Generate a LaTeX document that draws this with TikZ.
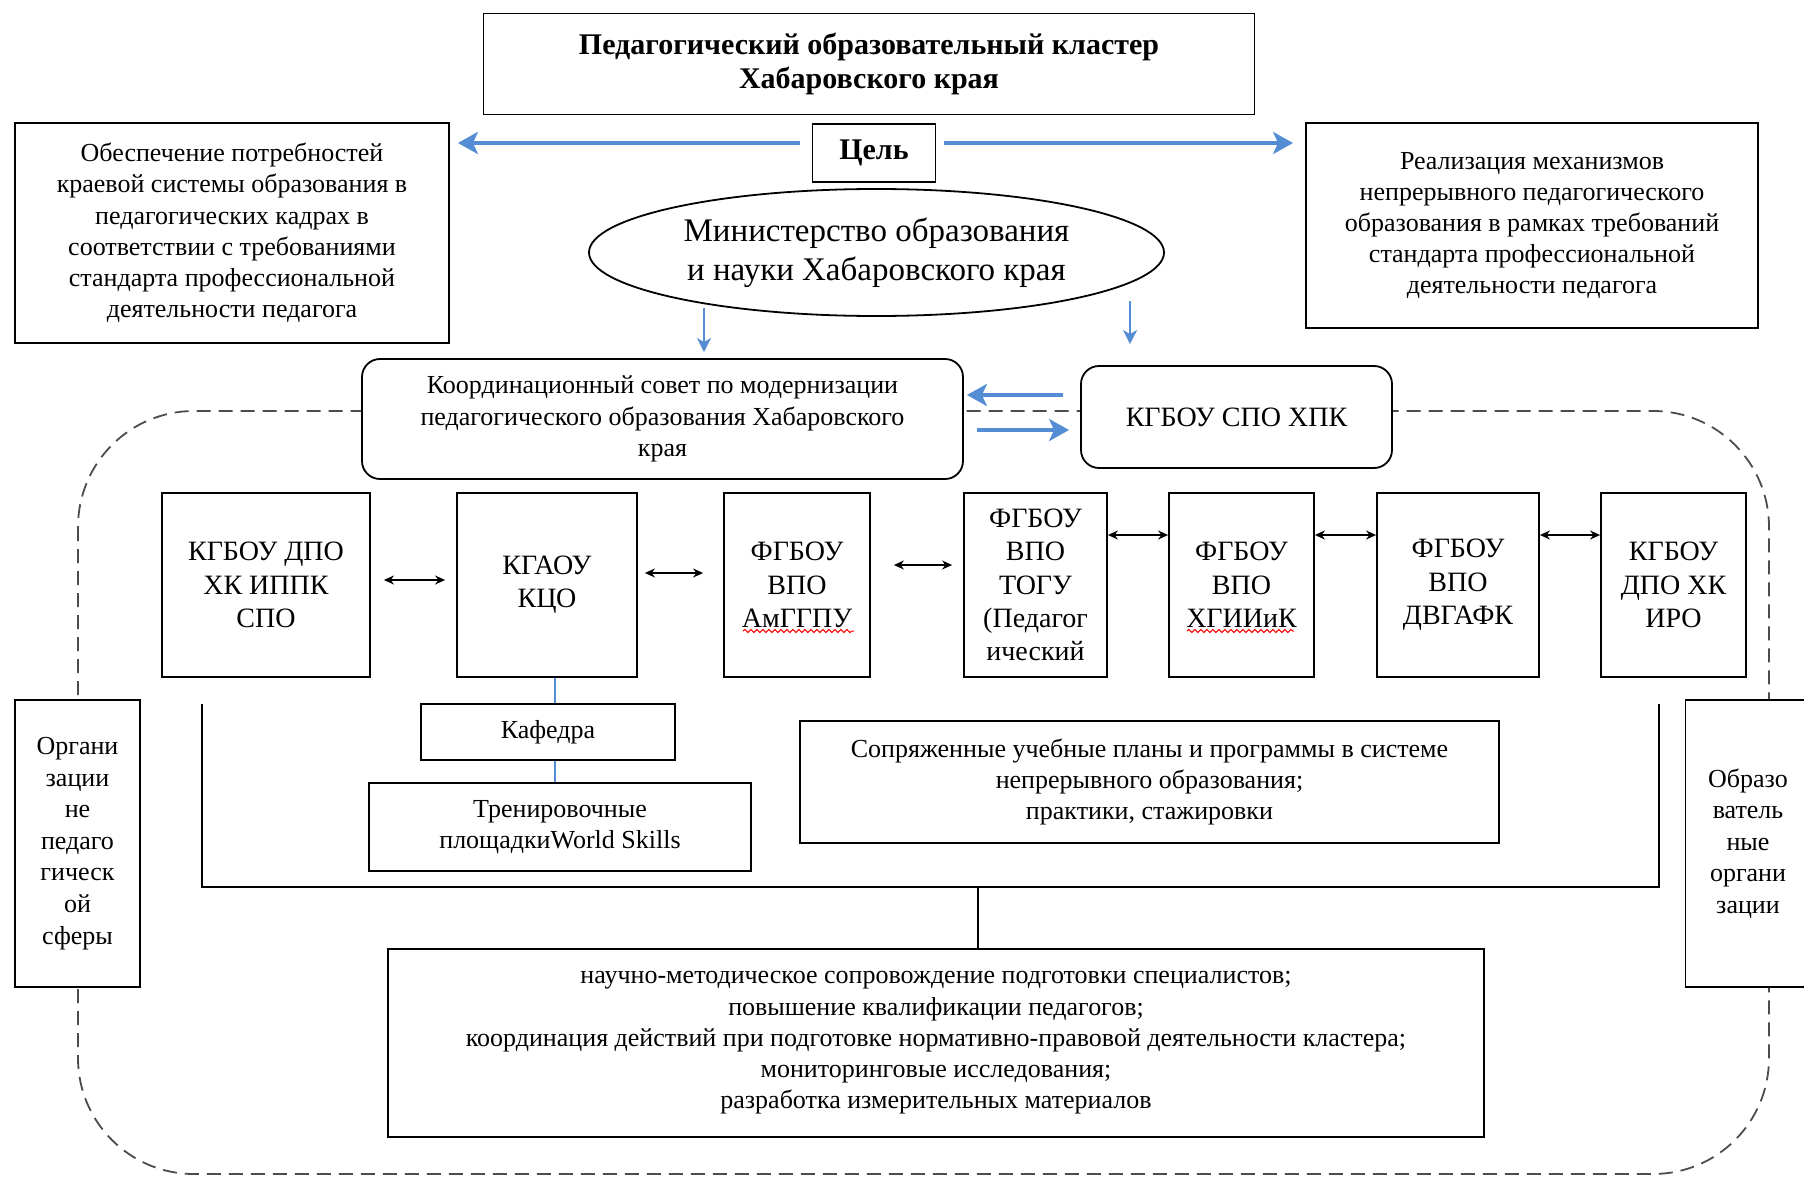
\documentclass[tikz,border=0pt]{standalone}
\usepackage{fontspec}
\setmainfont{Liberation Serif}
\usetikzlibrary{shapes.geometric,arrows.meta,decorations.pathmorphing}
\definecolor{blueline}{RGB}{84,141,212}

\begin{document}
\begin{tikzpicture}[
    x=0.5pt, y=-0.5pt,
    % Styles
    plainbox/.style={rectangle, draw=black, line width=0.9pt, fill=white, align=center, inner sep=2pt},
    textbox/.style={plainbox, font=\fontsize{13}{15.6}\selectfont},
    headbox/.style={plainbox, font=\bfseries\fontsize{15}{17.3}\selectfont},
    roundbox/.style={textbox, rounded corners=9pt},
    orgbox/.style={plainbox, font=\fontsize{14}{16.7}\selectfont, minimum height=92pt},
    sidebox/.style={plainbox, font=\fontsize{13}{15.8}\selectfont, minimum width=62.5pt, minimum height=143.5pt},
    oval/.style={ellipse, draw=black, line width=0.9pt, fill=white, align=center, inner sep=0pt, font=\fontsize{16.5}{19.5}\selectfont},
    % Arrows
    widearrow/.style={-{Stealth[length=10pt,width=11pt,inset=2.5pt]}, line width=2pt, blueline},
    thinarrow/.style={-{Stealth[length=7pt,width=7pt,inset=2pt]}, line width=1.3pt, blueline},
    duplex/.style={{Stealth[length=5pt,width=4.5pt]}-{Stealth[length=5pt,width=4.5pt]}, line width=0.8pt},
    link/.style={line width=1.3pt, blueline},
    bracket/.style={line width=0.8pt},
    cluster/.style={dash pattern=on 7pt off 4pt, line width=0.9pt, black!70, rounded corners=58pt},
    typo/.style={red, line width=0.5pt, decorate, decoration={snake, segment length=3pt, amplitude=0.8pt}},
  ]

  \useasboundingbox (0,0) rectangle (1804,1177);

  % Cluster border
  \draw[cluster] (78,411) rectangle (1769,1174);

  % Title
  \node[headbox, minimum width=385.5pt, minimum height=50.5pt] (title) at (869,64) {Педагогический образовательный кластер\\Хабаровского края};

  % Goal
  \node[headbox, minimum width=61.5pt, minimum height=29pt] (goal) at (874,153) {Цель};
  \node[textbox, minimum width=217pt, minimum height=110pt] (needs) at (232,233) {Обеспечение потребностей\\краевой системы образования в\\педагогических кадрах в\\соответствии с требованиями\\стандарта профессиональной\\деятельности педагога};
  \node[textbox, minimum width=226pt, minimum height=102.5pt] (mechanisms) at (1532,225.5) {Реализация механизмов\\непрерывного педагогического\\образования в рамках требований\\стандарта профессиональной\\деятельности педагога};

  % Ministry
  \node[oval, minimum width=287.5pt, minimum height=63.5pt] (ministry) at (876.5,252.5) {Министерство образования\\и науки Хабаровского края};

  % Council and college
  \node[roundbox, minimum width=300.5pt, minimum height=60pt] (council) at (662.5,419) {Координационный совет по модернизации\\педагогического образования Хабаровского\\края};
  \node[roundbox, font=\fontsize{14}{16.7}\selectfont, minimum width=155.5pt, minimum height=51pt] (hpk) at (1236.5,417) {КГБОУ СПО ХПК};

  % Member organisations
  \node[orgbox, minimum width=104pt] (ippk) at (266,585) {КГБОУ ДПО\\ХК ИППК\\СПО};
  \node[orgbox, minimum width=90pt] (kco) at (547,585) {КГАОУ\\КЦО};
  \node[orgbox, minimum width=73pt] (amggpu) at (797,585) {ФГБОУ\\ВПО\\АмГГПУ};
  \node[orgbox, minimum width=71.5pt] (togu) at (1035.5,585) {ФГБОУ\\ВПО\\ТОГУ\\(Педагог\\ический};
  \node[orgbox, minimum width=72.5pt] (hgiik) at (1241.5,585) {ФГБОУ\\ВПО\\ХГИИиК};
  \node[orgbox, minimum width=81pt] (dvgafk) at (1458,585) {ФГБОУ\\ВПО\\ДВГАФК};
  \node[orgbox, minimum width=72.5pt] (iro) at (1673.5,585) {КГБОУ\\ДПО ХК\\ИРО};

  % Chair and WorldSkills
  \node[textbox, minimum width=127pt, minimum height=28pt] (kafedra) at (548,732) {Кафедра};
  \node[textbox, minimum width=191pt, minimum height=44pt] (ws) at (560,827) {Тренировочные\\площадкиWorld Skills};

  % Joint plans
  \node[textbox, minimum width=349.5pt, minimum height=61pt] (plans) at (1149.5,782) {Сопряженные учебные планы и программы в системе\\непрерывного образования;\\практики, стажировки};

  % Side groups
  \node[sidebox] (nonped) at (77.5,843.5) {Органи\\зации\\не\\педаго\\гическ\\ой\\сферы};
  \node[sidebox] (edu) at (1748,843.5) {Образо\\ватель\\ные\\органи\\зации};

  % Summary
  \node[textbox, minimum width=548pt, minimum height=94pt] (summary) at (936,1043) {научно-методическое сопровождение подготовки специалистов;\\повышение квалификации педагогов;\\координация действий при подготовке нормативно-правовой деятельности кластера;\\мониторинговые исследования;\\разработка измерительных материалов};

  % Connections
  \coordinate (goalW) at ([shift={(-12,-10)}]goal.west);
  \coordinate (goalE) at ([shift={(8,-10)}]goal.east);
  \draw[widearrow, shorten >=4pt] (goalW) -- (goalW -| needs.east);
  \draw[widearrow, shorten >=6pt] (goalE) -- (goalE -| mechanisms.west);

  \draw[thinarrow] ([shift={(-172.5,55.5)}]ministry.center) -- ([shift={(41.5,-6)}]council.north);
  \draw[thinarrow] ([shift={(253.5,48.5)}]ministry.center) -- ([shift={(-106.5,-21)}]hpk.north);

  \draw[widearrow] ([shift={(-17,-22)}]hpk.west) -- ([shift={(3,-24)}]council.east);
  \draw[widearrow] ([shift={(13,11)}]council.east) -- ([shift={(-11,13)}]hpk.west);

  \draw[duplex, shorten <=6.5pt, shorten >=5.5pt] ([shift={(0,-5)}]ippk.east) -- ([shift={(0,-5)}]kco.west);
  \draw[duplex, shorten <=3.5pt, shorten >=10pt] ([shift={(0,-12)}]kco.east) -- ([shift={(0,-12)}]amggpu.west);
  \draw[duplex, shorten <=11.5pt, shorten >=5.5pt] ([shift={(0,-20)}]amggpu.east) -- ([shift={(0,-20)}]togu.west);
  \draw[duplex] ([shift={(0,-50)}]togu.east) -- ([shift={(0,-50)}]hgiik.west);
  \draw[duplex] ([shift={(0,-50)}]hgiik.east) -- ([shift={(0,-50)}]dvgafk.west);
  \draw[duplex] ([shift={(0,-50)}]dvgafk.east) -- ([shift={(0,-50)}]iro.west);

  \draw[link] ([shift={(8,0)}]kco.south) -- ([shift={(7,0)}]kafedra.north);
  \draw[link] ([shift={(7,0)}]kafedra.south) -- ([shift={(-5,0)}]ws.north);

  % Bracket to summary
  \coordinate (brL) at (202,704);
  \coordinate (brR) at (1659,704);
  \coordinate (brJoin) at (978,887);
  \draw[bracket] (brL) |- (brJoin) -| (brR);
  \draw[bracket] (brJoin) -- (brJoin |- summary.north);

  % Spelling marks
  \draw[typo] ([shift={(-54,46)}]amggpu.center) -- ([shift={(57,46)}]amggpu.center);
  \draw[typo] ([shift={(-54.5,46)}]hgiik.center) -- ([shift={(52.5,46)}]hgiik.center);

\end{tikzpicture}
\end{document}
